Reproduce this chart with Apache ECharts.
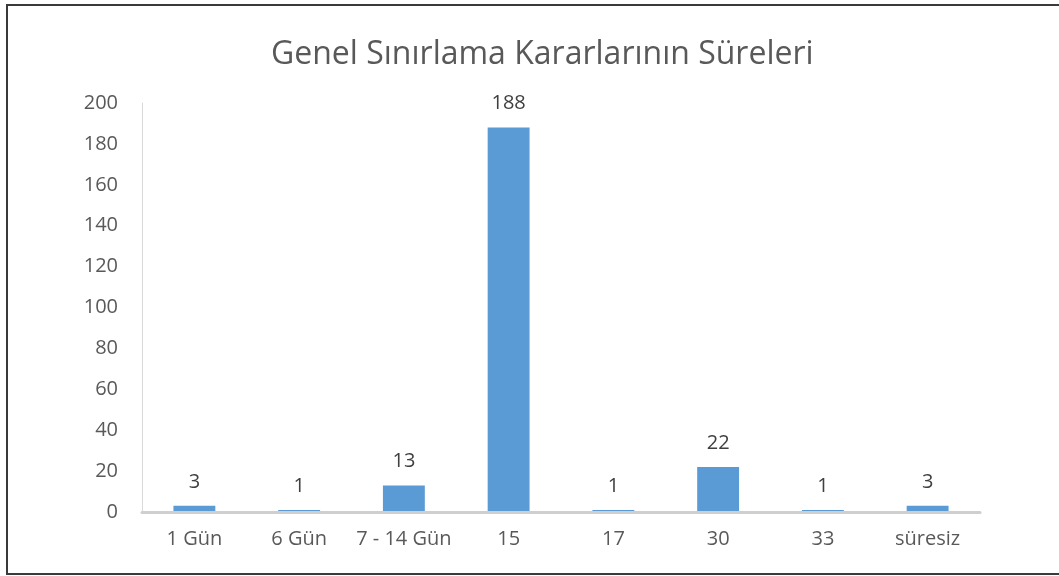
<!DOCTYPE html>
<html>
<head>
<meta charset="utf-8">
<script src="https://cdn.jsdelivr.net/npm/echarts@6/dist/echarts.min.js"></script>
<style>
html,body{margin:0;padding:0;background:#fff;}
#c{width:1059px;height:576px;}
</style>
</head>
<body>
<div id="c"></div>
<script>
const titleText = 'Genel Sınırlama Kararlarının Süreleri';
const categories = ['1 Gün', '6 Gün', '7 - 14 Gün', '15', '17', '30', '33', 'süresiz'];
const values = [3, 1, 13, 188, 1, 22, 1, 3];
const yMin = 0, yMax = 200, yStep = 20;

const chart = echarts.init(document.getElementById('c'), null, {renderer: 'canvas'});
const font = '"Open Sans", "Liberation Sans", sans-serif';
chart.setOption({
  backgroundColor: '#ffffff',
  animation: false,
  title: {
    text: titleText,
    left: 266,
    top: 34,
    textStyle: {fontFamily: font, fontSize: 32, fontWeight: 'normal', color: '#595959'}
  },
  graphic: [{
    type: 'rect',
    shape: {x: 7, y: 5, width: 1070, height: 569},
    style: {fill: 'none', stroke: '#3a3a3a', lineWidth: 2},
    silent: true
  }],
  grid: {left: 142, right: 79, top: 103, bottom: 64},
  xAxis: {
    type: 'category',
    data: categories,
    z: 5,
    axisLine: {lineStyle: {color: '#cfcfcf', width: 3}},
    axisTick: {show: false},
    axisLabel: {fontFamily: font, fontSize: 20, color: '#595959', margin: 17, interval: 0}
  },
  yAxis: {
    type: 'value',
    min: yMin, max: yMax, interval: yStep,
    axisLine: {show: true, lineStyle: {color: '#d9d9d9', width: 1}},
    axisTick: {show: false},
    splitLine: {show: false},
    axisLabel: {fontFamily: font, fontSize: 20, color: '#595959', margin: 24}
  },
  series: [{
    type: 'bar',
    data: values,
    barWidth: '40%',
    itemStyle: {color: '#5b9bd5'},
    label: {
      show: true, position: 'top', distance: 14,
      fontFamily: font, fontSize: 20, color: '#404040'
    }
  }]
});
</script>
</body>
</html>
